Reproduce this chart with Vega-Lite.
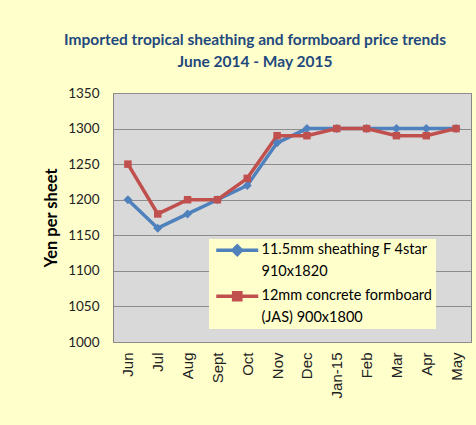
{
  "$schema": "https://vega.github.io/schema/vega-lite/v6.json",
  "width": 358,
  "height": 249,
  "autosize": {"type": "none"},
  "padding": {"left": 113, "top": 93, "right": 5, "bottom": 83},
  "background": "#FFFFCC",
  "title": {
    "text": ["Imported tropical sheathing and formboard price trends", "June 2014 - May 2015"],
    "font": "Lato",
    "fontSize": 15.5,
    "fontWeight": "bold",
    "color": "#1F497D",
    "lineHeight": 22,
    "anchor": "middle",
    "dx": -37,
    "offset": 16
  },
  "config": {
    "view": {"fill": "#D9D9D9", "stroke": "#868686", "strokeWidth": 1},
    "axis": {"grid": false, "domain": false, "ticks": false, "tickSize": 0}
  },
  "data": {
    "values": [
      {"month": "Jun", "series": "A", "price": 1200},
      {"month": "Jul", "series": "A", "price": 1160},
      {"month": "Aug", "series": "A", "price": 1180},
      {"month": "Sept", "series": "A", "price": 1200},
      {"month": "Oct", "series": "A", "price": 1220},
      {"month": "Nov", "series": "A", "price": 1280},
      {"month": "Dec", "series": "A", "price": 1300},
      {"month": "Jan-15", "series": "A", "price": 1300},
      {"month": "Feb", "series": "A", "price": 1300},
      {"month": "Mar", "series": "A", "price": 1300},
      {"month": "Apr", "series": "A", "price": 1300},
      {"month": "May", "series": "A", "price": 1300},
      {"month": "Jun", "series": "B", "price": 1250},
      {"month": "Jul", "series": "B", "price": 1180},
      {"month": "Aug", "series": "B", "price": 1200},
      {"month": "Sept", "series": "B", "price": 1200},
      {"month": "Oct", "series": "B", "price": 1230},
      {"month": "Nov", "series": "B", "price": 1290},
      {"month": "Dec", "series": "B", "price": 1290},
      {"month": "Jan-15", "series": "B", "price": 1300},
      {"month": "Feb", "series": "B", "price": 1300},
      {"month": "Mar", "series": "B", "price": 1290},
      {"month": "Apr", "series": "B", "price": 1290},
      {"month": "May", "series": "B", "price": 1300}
    ]
  },
  "encoding": {
    "x": {
      "field": "month",
      "type": "ordinal",
      "sort": null,
      "scale": {"type": "point", "padding": 0.5},
      "axis": {
        "title": null,
        "labelAngle": -90,
        "labelAlign": "right",
        "labelBaseline": "middle",
        "labelPadding": 10,
        "labelLimit": 200,
        "labelOverlap": false,
        "labelFont": "Liberation Sans",
        "labelFontSize": 15,
        "labelColor": "#222"
      }
    },
    "y": {
      "field": "price",
      "type": "quantitative",
      "scale": {"domain": [1000, 1350], "nice": false, "zero": false},
      "axis": {
        "values": [1000, 1050, 1100, 1150, 1200, 1250, 1300, 1350],
        "format": "d",
        "grid": true,
        "gridColor": "#8C8C8C",
        "gridWidth": 1,
        "title": "Yen per sheet",
        "titleFont": "Lato",
        "titleFontSize": 16.5,
        "titleFontWeight": "bold",
        "titleColor": "#000",
        "titlePadding": 8,
        "labelFont": "Lato",
        "labelFontSize": 13.5,
        "labelColor": "#222",
        "labelPadding": 14
      }
    },
    "color": {
      "field": "series",
      "type": "nominal",
      "scale": {"domain": ["A", "B"], "range": ["#4F81BD", "#C0504D"]},
      "legend": {
        "orient": "none",
        "legendX": 96,
        "legendY": 146,
        "title": null,
        "fillColor": "#FFFFCC",
        "padding": 4,
        "symbolType": "M-1,0H9.5",
        "symbolSize": 64,
        "symbolStrokeWidth": 3.5,
        "labelOffset": 34,
        "labelFont": "Lato",
        "labelFontSize": 14.5,
        "labelColor": "#000",
        "labelLimit": 300,
        "rowPadding": 6,
        "labelExpr": "datum.value === 'A' ? ['11.5mm sheathing F 4star', '910x1820'] : ['12mm concrete formboard', '(JAS) 900x1800']",
        "encode": {
          "symbols": {
            "update": {
              "shape": {"signal": "datum.value === 'A' ? 'M-1,0H9.5M3.2,0L4.25,-1.05L5.3,0L4.25,1.05Z' : 'M-1,0H9.5M3.35,-0.9H5.15V0.9H3.35Z'"},
              "fill": {"signal": "scale('color', datum.value)"},
              "stroke": {"signal": "scale('color', datum.value)"},
              "strokeWidth": {"value": 3.5}
            }
          },
          "labels": {
            "update": {
              "lineHeight": {"value": 22},
              "baseline": {"value": "middle"}
            }
          }
        }
      }
    }
  },
  "layer": [
    {"mark": {"type": "line", "strokeWidth": 3.5}},
    {
      "transform": [{"filter": "datum.series === 'A'"}],
      "mark": {"type": "point", "filled": true, "opacity": 1, "size": 80, "shape": "diamond"}
    },
    {
      "transform": [{"filter": "datum.series === 'B'"}],
      "mark": {"type": "point", "filled": true, "opacity": 1, "size": 56, "shape": "square"}
    }
  ]
}
